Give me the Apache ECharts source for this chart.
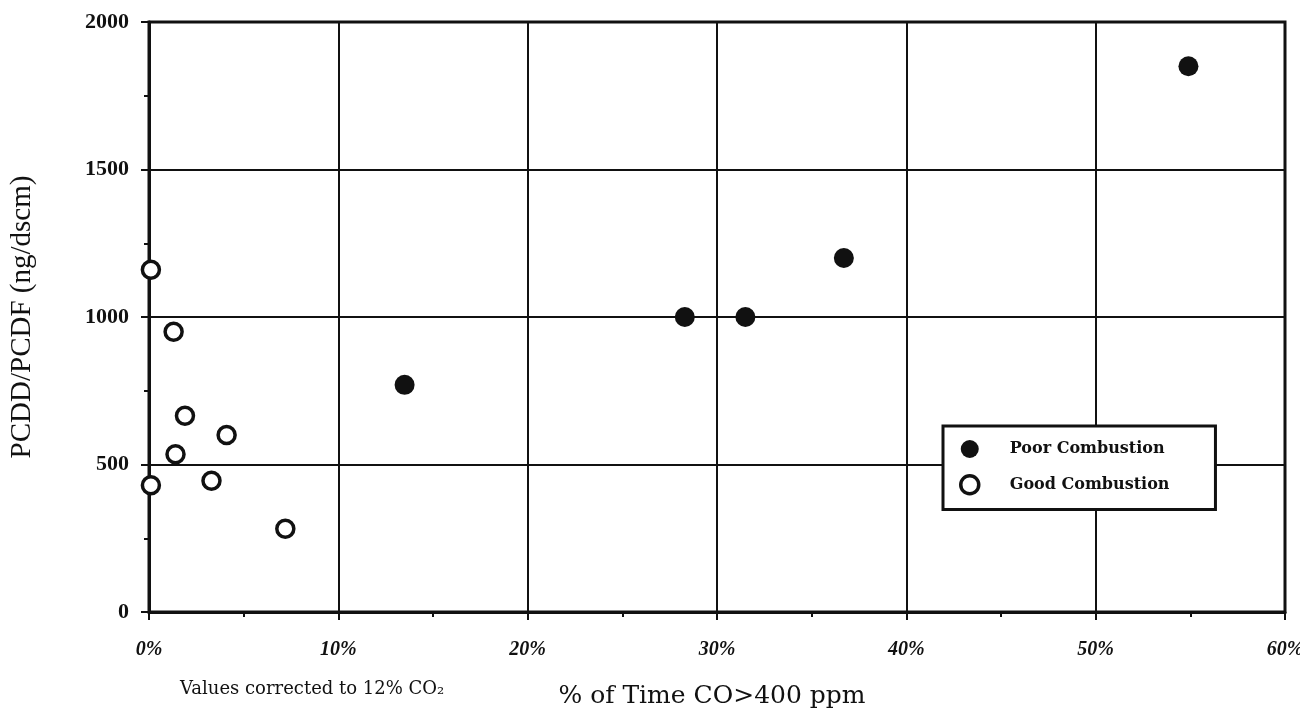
<!DOCTYPE html>
<html>
<head>
<meta charset="utf-8">
<script src="https://cdn.jsdelivr.net/npm/echarts@6/dist/echarts.min.js"></script>
<style>
  html, body { margin: 0; padding: 0; background: #fff; }
  #chart { width: 1300px; height: 716px; }
</style>
</head>
<body>
<div id="chart"></div>
<script>
// % of time CO > 400 ppm vs PCDD/PCDF concentration
const poorCombustion = [
  [54.9, 1850],
  [36.7, 1200],
  [31.5, 1000],
  [28.3, 1000],
  [13.5, 770]
];
const goodCombustion = [
  [0.1, 1160],
  [1.3, 950],
  [1.9, 665],
  [1.4, 535],
  [4.1, 600],
  [3.3, 445],
  [0.1, 430],
  [7.2, 282]
];
const xTicks = [0, 10, 20, 30, 40, 50, 60];
const yTicks = [0, 500, 1000, 1500, 2000];

const serif = '"Liberation Serif", "DejaVu Serif", serif';
const wideSerif = '"DejaVu Serif", "Liberation Serif", serif';
const chart = echarts.init(document.getElementById('chart'));

chart.setOption({
  backgroundColor: '#fff',
  animation: false,
  grid: {
    left: 149, right: 15, top: 22, bottom: 104,
    outerBoundsMode: 'none',
    containLabel: false,
    show: true, borderColor: '#111', borderWidth: 3
  },
  xAxis: {
    type: 'value',
    min: xTicks[0], max: xTicks[xTicks.length - 1], interval: 10,
    name: '% of Time CO>400 ppm',
    nameLocation: 'middle',
    nameGap: 72,
    nameTextStyle: { fontFamily: wideSerif, fontSize: 25, color: '#111', padding: [0, 10, 0, 0] },
    axisLine: { lineStyle: { color: '#111', width: 3 } },
    axisTick: { show: true, inside: false, length: 8, lineStyle: { color: '#111', width: 2 } },
    minorTick: { show: true, splitNumber: 2, length: 5, lineStyle: { color: '#111', width: 2 } },
    splitLine: { show: true, lineStyle: { color: '#111', width: 2 } },
    axisLabel: {
      margin: 28, fontFamily: serif, fontWeight: 'bold', fontStyle: 'italic',
      fontSize: 20, color: '#111',
      formatter: v => v + '%'
    }
  },
  yAxis: {
    type: 'value',
    min: yTicks[0], max: yTicks[yTicks.length - 1], interval: 500,
    name: 'PCDD/PCDF (ng/dscm)',
    nameLocation: 'middle',
    nameGap: 112,
    nameTextStyle: { fontFamily: serif, fontSize: 29, color: '#111' },
    axisLine: { lineStyle: { color: '#111', width: 3 } },
    axisTick: { show: true, inside: false, length: 8, lineStyle: { color: '#111', width: 2 } },
    minorTick: { show: true, splitNumber: 2, length: 5, lineStyle: { color: '#111', width: 2 } },
    splitLine: { show: true, lineStyle: { color: '#111', width: 2 } },
    axisLabel: {
      margin: 20, fontFamily: serif, fontWeight: 'bold', fontSize: 22, color: '#111',
      formatter: v => String(v)
    }
  },
  legend: {
    left: 943, top: 426,
    orient: 'vertical',
    padding: [14, 46, 14, 16],
    itemGap: 16,
    itemWidth: 18, itemHeight: 18,
    backgroundColor: '#fff',
    borderColor: '#111', borderWidth: 3,
    textStyle: { fontFamily: wideSerif, fontWeight: 'bold', fontSize: 16, color: '#111', padding: [0, 0, 0, 26] },
    data: [
      { name: 'Poor Combustion', icon: 'circle' },
      { name: 'Good Combustion', icon: 'circle', itemStyle: { color: '#fff', borderColor: '#111', borderWidth: 3.5 } }
    ]
  },
  graphic: [{
    type: 'text',
    left: 180, top: 680,
    style: {
      text: 'Values corrected to 12% CO₂',
      font: '18px "DejaVu Serif", serif',
      fill: '#111'
    }
  }],
  series: [
    {
      name: 'Poor Combustion',
      type: 'scatter',
      symbol: 'circle',
      symbolSize: 20,
      itemStyle: { color: '#111', opacity: 1 },
      data: poorCombustion,
      z: 5
    },
    {
      name: 'Good Combustion',
      type: 'scatter',
      symbol: 'circle',
      symbolSize: 17,
      itemStyle: { color: '#fff', borderColor: '#111', borderWidth: 3.5, opacity: 1 },
      data: goodCombustion,
      z: 5
    }
  ]
});
</script>
</body>
</html>
